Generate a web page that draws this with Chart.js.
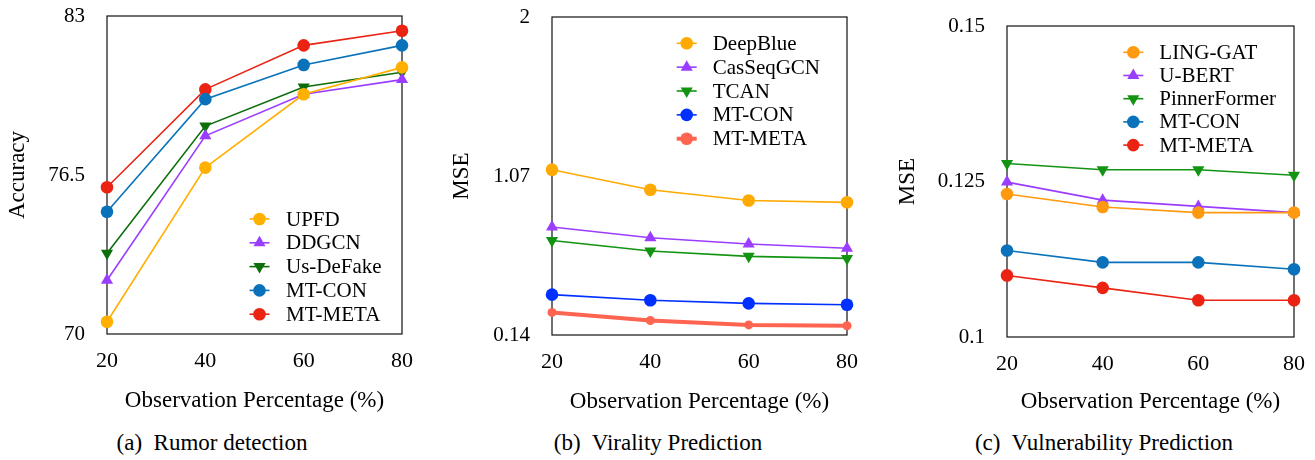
<!DOCTYPE html>
<html>
<head>
<meta charset="utf-8">
<script src="https://cdn.jsdelivr.net/npm/chart.js@4.4.1/dist/chart.umd.min.js"></script>
<style>
  body { margin: 0; background: #fff; width: 1315px; height: 460px; position: relative; overflow: hidden; font-family: "Liberation Serif", "Times New Roman", serif; }
  canvas { position: absolute; top: 0; }
  .caption { position: absolute; width: 320px; text-align: center; font-size: 23px; line-height: 28px; top: 429px; white-space: pre; color: #000; }
</style>
</head>
<body>
<canvas id="rumor" width="422" height="415" style="left:0px"></canvas>
<canvas id="virality" width="423" height="416" style="left:444px"></canvas>
<canvas id="vulnerability" width="422" height="416" style="left:890px"></canvas>
<div class="caption" style="left:52px">(a)  Rumor detection</div>
<div class="caption" style="left:498px">(b)  Virality Prediction</div>
<div class="caption" style="left:944px">(c)  Vulnerability Prediction</div>
<script>
const observation = ["20", "40", "60", "80"]

// (a) rumor detection accuracy
const rumorTicks = [70, 76.5, 83]
const upfd = [70.5, 76.8, 79.8, 80.9]
const ddgcn = [72.2, 78.1, 79.8, 80.4]
const usDeFake = [73.3, 78.5, 80.1, 80.7]
const mtConRumor = [75.0, 79.6, 81.0, 81.8]
const mtMetaRumor = [76.0, 80.0, 81.8, 82.4]

// (b) virality prediction MSE
const viralityTicks = [0.14, 1.07, 2]
const deepBlue = [1.107, 0.990, 0.927, 0.916]
const casSeqGcn = [0.772, 0.709, 0.672, 0.647]
const tcan = [0.693, 0.631, 0.600, 0.588]
const mtConVirality = [0.376, 0.343, 0.325, 0.317]
const mtMetaVirality = [0.272, 0.225, 0.199, 0.194]

// (c) vulnerability prediction MSE
const vulnerabilityTicks = [0.1, 0.125, 0.15]
const lingGat = [0.1230, 0.1209, 0.1200, 0.1200]
const uBert = [0.1249, 0.1220, 0.1210, 0.1200]
const pinnerFormer = [0.1279, 0.1269, 0.1269, 0.1260]
const mtConVulnerability = [0.1139, 0.1120, 0.1120, 0.1109]
const mtMetaVulnerability = [0.1099, 0.1079, 0.1059, 0.1059]

const FONT = "'Liberation Serif', 'Times New Roman', serif"

function drawMarker(ctx, style, rotation, x, y, r) {
  ctx.beginPath()
  if (style === "circle") {
    ctx.arc(x, y, r, 0, Math.PI * 2)
  } else {
    let rad = rotation * Math.PI / 180
    for (let i = 0; i < 3; i++) {
      const px = x + Math.sin(rad) * r
      const py = y - Math.cos(rad) * r
      i === 0 ? ctx.moveTo(px, py) : ctx.lineTo(px, py)
      rad += Math.PI * 2 / 3
    }
    ctx.closePath()
  }
  ctx.fill()
}

const framePlugin = {
  id: "frame",
  beforeDatasetsDraw(chart) {
    const { ctx, chartArea: a } = chart
    ctx.save()
    ctx.strokeStyle = "#111"
    ctx.lineWidth = 1.2
    ctx.strokeRect(a.left, a.top, a.right - a.left, a.bottom - a.top)
    ctx.restore()
  }
}

const insideLegend = {
  id: "insideLegend",
  afterDraw(chart, args, opts) {
    const { ctx, chartArea: a } = chart
    ctx.save()
    chart.data.datasets.forEach((ds, i) => {
      const x = a.left + opts.dx
      const y = a.top + opts.dy + i * opts.gap
      ctx.strokeStyle = ds.borderColor
      ctx.lineWidth = ds.borderWidth
      ctx.beginPath()
      ctx.moveTo(x - 10, y)
      ctx.lineTo(x + 10, y)
      ctx.stroke()
      ctx.fillStyle = ds.borderColor
      drawMarker(ctx, ds.pointStyle, ds.pointRotation, x, y, ds.legendRadius)
      ctx.fillStyle = "#000"
      ctx.font = "21px " + FONT
      ctx.textBaseline = "middle"
      ctx.textAlign = "left"
      ctx.fillText(ds.label, x + opts.textGap, y + 1)
    })
    ctx.restore()
  }
}

function series(label, data, color, marker, extra = {}) {
  const down = marker === "down"
  const style = marker === "circle" ? "circle" : "triangle"
  const radius = style === "circle" ? 6.3 : 7
  return {
    label, data,
    borderColor: color,
    backgroundColor: color,
    pointBackgroundColor: color,
    pointBorderColor: color,
    pointBorderWidth: 0,
    borderWidth: 1.6,
    pointStyle: style,
    pointRotation: down ? 180 : 0,
    pointRadius: radius,
    legendRadius: radius,
    tension: 0,
    clip: false,
    ...extra
  }
}

function makeChart(id, datasets, yTicks, yTitle, box) {
  return new Chart(document.getElementById(id), {
    type: "line",
    data: { labels: observation, datasets },
    options: {
      responsive: false,
      animation: false,
      events: [],
      layout: { autoPadding: false, padding: { top: box.top, right: box.right, left: 0, bottom: 0 } },
      scales: {
        x: {
          grid: { display: false, drawTicks: false },
          border: { display: false },
          ticks: { color: "#000", font: { family: FONT, size: 22 }, padding: 14, maxRotation: 0, autoSkip: false },
          title: { display: true, text: "Observation Percentage (%)", color: "#000", font: { family: FONT, size: 23 }, padding: { top: 0, bottom: 0 } },
          afterFit: s => {
            s.height = box.xh
            s.paddingLeft = 0
            s.paddingRight = 0
          }
        },
        y: {
          min: yTicks[0],
          max: yTicks[yTicks.length - 1],
          afterBuildTicks: s => { s.ticks = yTicks.map(v => ({ value: v })) },
          grid: { display: false, drawTicks: false },
          border: { display: false },
          ticks: { color: "#000", font: { family: FONT, size: 21 }, padding: 22, callback: v => String(v) },
          title: { display: true, text: yTitle, color: "#000", font: { family: FONT, size: 23 }, padding: { top: 4, bottom: 0 } },
          afterFit: s => {
            s.width = box.yw
            s.paddingTop = 0
            s.paddingBottom = 0
          }
        }
      },
      plugins: {
        legend: { display: false },
        tooltip: { enabled: false },
        insideLegend: box.legend
      }
    },
    plugins: [framePlugin, insideLegend]
  })
}

makeChart("rumor", [
  series("UPFD", upfd, "#ffb000", "circle"),
  series("DDGCN", ddgcn, "#9b3dff", "up"),
  series("Us-DeFake", usDeFake, "#0b6e0b", "down"),
  series("MT-CON", mtConRumor, "#0a72ba", "circle"),
  series("MT-META", mtMetaRumor, "#ea2313", "circle")
], rumorTicks, "Accuracy", {
  top: 16, right: 20, xh: 81, yw: 107,
  legend: { dx: 152.5, dy: 203, gap: 23.8, textGap: 26.5 }
})

makeChart("virality", [
  series("DeepBlue", deepBlue, "#ffaa00", "circle"),
  series("CasSeqGCN", casSeqGcn, "#9b3dff", "up"),
  series("TCAN", tcan, "#129412", "down"),
  series("MT-CON", mtConVirality, "#0030ff", "circle"),
  series("MT-META", mtMetaVirality, "#ff6450", "circle", { borderWidth: 4, pointRadius: 4.5 })
], viralityTicks, "MSE", {
  top: 17, right: 20, xh: 81, yw: 108,
  legend: { dx: 134.7, dy: 26.3, gap: 23.85, textGap: 26 }
})

makeChart("vulnerability", [
  series("LING-GAT", lingGat, "#ff9a10", "circle"),
  series("U-BERT", uBert, "#9b3dff", "up"),
  series("PinnerFormer", pinnerFormer, "#129412", "down"),
  series("MT-CON", mtConVulnerability, "#0a72ba", "circle"),
  series("MT-META", mtMetaVulnerability, "#ea2313", "circle")
], vulnerabilityTicks, "MSE", {
  top: 26, right: 18, xh: 79, yw: 117,
  legend: { dx: 126.3, dy: 26.3, gap: 23.2, textGap: 26 }
})
</script>
</body>
</html>
